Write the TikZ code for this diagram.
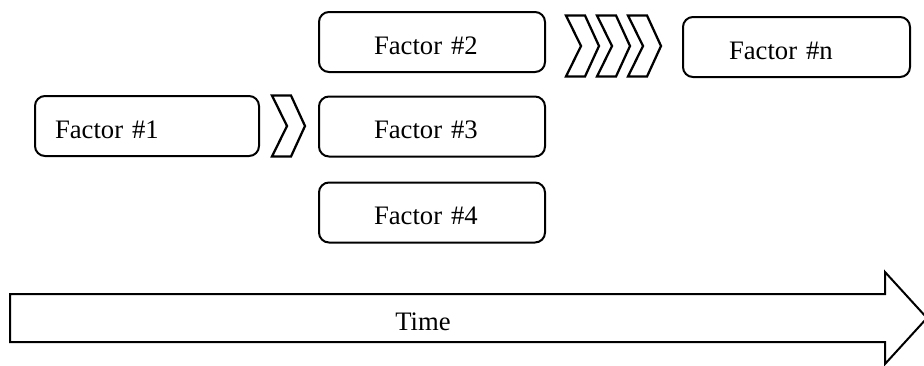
\documentclass[tikz,border=0pt]{standalone}
\usepackage{fontspec}
\setmainfont{Liberation Serif}
\begin{document}
\begin{tikzpicture}[x=0.75pt,y=-0.75pt,
  box/.style={draw=black, line width=1.5pt, rounded corners=7.5pt, align=left,
    minimum height=45pt, font=\fontsize{20}{24}\selectfont, text height=18pt, text depth=0pt},
  chev/.style={draw=black, line width=1.7pt, line join=miter, fill=white},
  chevron/.pic={\draw[chev] (0,-30.5) -- (19,-30.5) -- (33,0) -- (19,30.5) -- (0,30.5) -- (15,0) -- cycle;},
  timearrow/.style={draw=black, line width=1.5pt, fill=white}]
\useasboundingbox (0,0) rectangle (924,365);
% boxes
\node[box, inner xsep=15pt, text width=138pt] (f1) at (147,126) {Factor \#1};
\node[box, inner xsep=41.25pt, text width=87pt] (f2) at (432,42) {Factor \#2};
\node[box, inner xsep=41.25pt, text width=87pt] (f3) at (432,126.5) {Factor \#3};
\node[box, inner xsep=41.25pt, text width=87pt] (f4) at (432,212.5) {Factor \#4};
\node[box, inner xsep=34.5pt, text width=101.25pt] (fn) at (796.5,47) {Factor \#n};
% chevrons
\coordinate (c1) at ([xshift=9pt]f1.east);
\pic at (c1) {chevron};
\coordinate (c2) at ([xshift=15pt,yshift=-3pt]f2.east);
\pic at (c2) {chevron};
\pic at ([xshift=23.25pt]c2) {chevron};
\pic at ([xshift=46.5pt]c2) {chevron};
% time arrow
\draw[timearrow] (10,294) -- (885,294) -- (885,272) -- (927,318) -- (885,364) -- (885,342) -- (10,342) -- cycle;
\node[font=\fontsize{20}{24}\selectfont, text height=18pt, text depth=0pt] (time) at (423,318) {Time};
\end{tikzpicture}
\end{document}
